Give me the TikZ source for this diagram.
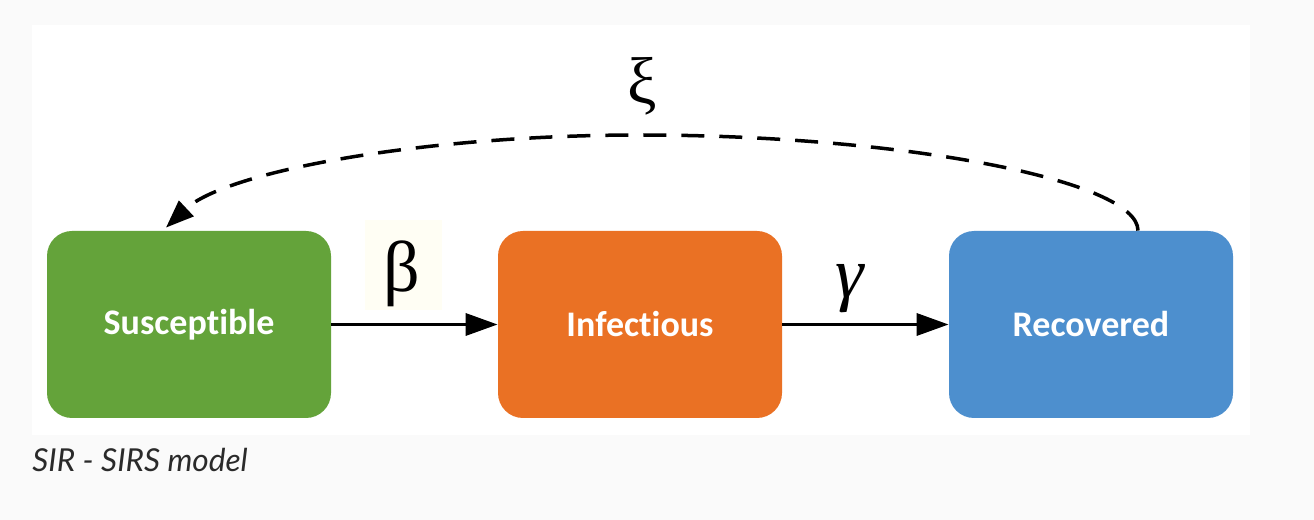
\documentclass[tikz,border=0pt]{standalone}
\usepackage{fontspec}
\usetikzlibrary{arrows.meta,calc}
\newfontfamily\boxfont{Carlito}[Ligatures={NoCommon,NoDiscretionary,NoRare}]
\newfontfamily\capfont{Lato}
\newfontfamily\greekfont{Liberation Serif}
\definecolor{bggray}{HTML}{FAFAFA}
\definecolor{sgreen}{HTML}{64A33A}
\definecolor{iorange}{HTML}{EA7124}
\definecolor{rblue}{HTML}{4D8FCE}
\definecolor{cream}{HTML}{FFFEF4}
\definecolor{captxt}{HTML}{2A2A2A}
\tikzset{
  statebox/.style={rectangle, rounded corners=12.5pt, minimum width=142pt, minimum height=93.5pt,
    inner sep=0pt, text=white, font=\boxfont\bfseries\fontsize{18}{21}\selectfont},
  flow/.style={line width=1.75pt, -{Triangle[length=16pt,width=11pt]}},
  feedback/.style={line width=1.75pt, dash pattern=on 11.5pt off 7.5pt, -{Triangle[length=14pt,width=10.5pt]}},
  greeklbl/.style={inner sep=0pt, anchor=base}
}
\begin{document}
\begin{tikzpicture}[x=0.5pt,y=0.5pt]
  \useasboundingbox (0,0) rectangle (1314,520);
  \fill[bggray] (0,0) rectangle (1314,520);
  \fill[white] (32,85) rectangle (1250,495);
  \fill[cream] (365,210) rectangle (442,300);
  \node[statebox, fill=sgreen] (S) at (189,195.5) {\raisebox{-1pt}{Susceptible}};
  \node[statebox, fill=iorange] (I) at (640,195.5) {\raisebox{-1pt}{Infectious}};
  \node[statebox, fill=rblue] (R) at (1091,195.5) {\raisebox{-1pt}{Recovered}};
  \draw[flow] (S.east) -- (I.west);
  \draw[flow] (I.east) -- (R.west);
  \coordinate (fbstart) at ([xshift=23.5pt]R.north);
  \coordinate (fbend) at ([xshift=-11.5pt,yshift=1.5pt]S.north);
  \draw[feedback] (fbstart) .. controls (1138,340) and (900,385) .. (640,385)
     .. controls (420,385) and (225,348) .. (fbend);
  \node[greeklbl, font=\greekfont\fontsize{36}{40}\selectfont] (beta) at (402,228) {β};
  \node[greeklbl, font=\greekfont\itshape\fontsize{36}{42}\selectfont] (gamma) at (850,222) {γ};
  \node[greeklbl, font=\greekfont\fontsize{33}{38}\selectfont] (xi) at (642,416) {ξ};
  \node[anchor=base west, inner sep=0pt, text=captxt, font=\capfont\itshape\fontsize{15.8}{18}\selectfont] (cap) at (32,48) {SIR - SIRS model};
\end{tikzpicture}
\end{document}
